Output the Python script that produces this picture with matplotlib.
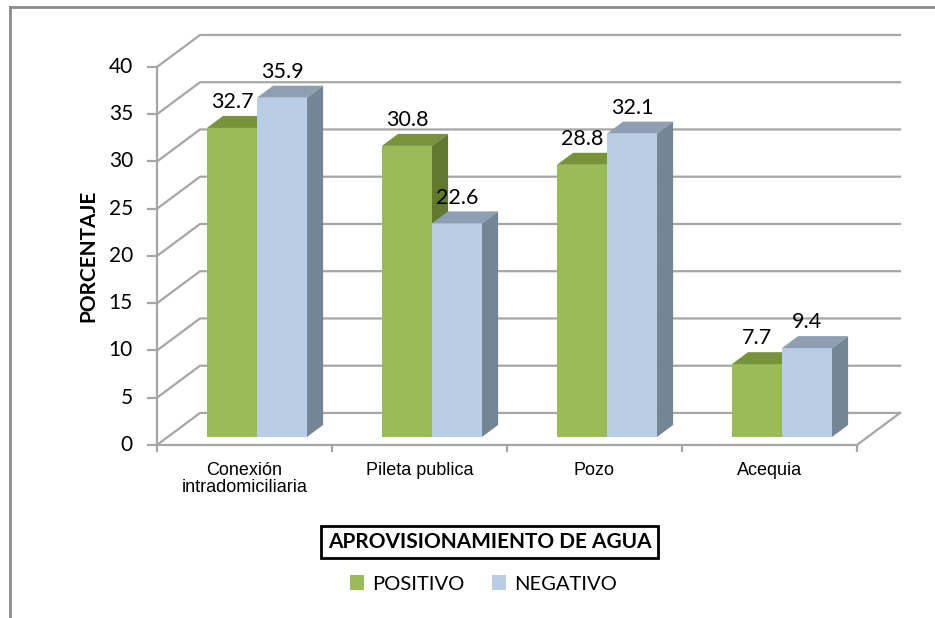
import matplotlib.pyplot as plt
from matplotlib.patches import Polygon, Patch
from matplotlib.lines import Line2D

# datos
categorias = ['Conexión\nintradomiciliaria', 'Pileta publica', 'Pozo', 'Acequia']
positivo = [32.7, 30.8, 28.8, 7.7]
negativo = [35.9, 22.6, 32.1, 9.4]
series = ['POSITIVO', 'NEGATIVO']
yticks = [0, 5, 10, 15, 20, 25, 30, 35, 40]

# colores: frente, tapa, lado
col_pos = ('#9BBB59', '#77933C', '#61782F')
col_neg = ('#B9CDE5', '#8E9FB4', '#748596')
gris = '#A6A6A6'

# profundidad del efecto 3D
PX, PY = 0.246, 3.39      # pared del fondo
BX, BY = 0.092, 1.27      # fondo de cada barra
FX, FY = 0.0615, 0.85     # cara frontal de las barras
ancho = 0.286
inicio = 0.224

fuente = ['Lato', 'DejaVu Sans']

fig = plt.figure(figsize=(9.35, 6.18), dpi=100)
ax = fig.add_axes([0, 0, 1, 1])
ax.set_xlim(-0.897, 4.446)
ax.set_ylim(-18.31, 47.09)
ax.axis('off')

n = len(categorias)

# rejilla y pared izquierda
for v in yticks:
    ax.plot([0, PX, n + PX], [v, v + PY, v + PY], color=gris, lw=1.6, zorder=1)
    ax.plot([-0.051, 0], [v, v], color=gris, lw=1.6, zorder=1)
    ax.text(-0.137, v, str(v), ha='right', va='center', fontsize=15, family=fuente)
ax.plot([0, 0], [0, yticks[-1]], color=gris, lw=1.6, zorder=1)

# piso
ax.plot([0, n, n + PX], [0, 0, PY], color=gris, lw=1.6, zorder=1)
for i in range(n + 1):
    ax.plot([i, i], [0, -0.65], color=gris, lw=1.6, zorder=1)

# barras
for i in range(n):
    for j, (vals, cols) in enumerate([(positivo, col_pos), (negativo, col_neg)]):
        x0 = i + inicio + j * ancho + FX
        y0 = FY
        x1 = x0 + ancho
        y1 = y0 + vals[i]
        frente = [(x0, y0), (x1, y0), (x1, y1), (x0, y1)]
        tapa = [(x0, y1), (x1, y1), (x1 + BX, y1 + BY), (x0 + BX, y1 + BY)]
        lado = [(x1, y0), (x1 + BX, y0 + BY), (x1 + BX, y1 + BY), (x1, y1)]
        ax.add_patch(Polygon(frente, closed=True, fc=cols[0], ec='none', zorder=2))
        ax.add_patch(Polygon(tapa, closed=True, fc=cols[1], ec='none', zorder=2))
        ax.add_patch(Polygon(lado, closed=True, fc=cols[2], ec='none', zorder=2))

# etiquetas de datos
for i in range(n):
    for j, vals in enumerate([positivo, negativo]):
        xc = i + inicio + j * ancho + FX + ancho / 2
        ax.text(xc, vals[i] + FY + BY + 0.4, f'{vals[i]}', ha='center', va='bottom',
                fontsize=15.5, family=fuente, zorder=5)

# categorias
for i, c in enumerate(categorias):
    ax.text(i + 0.5, -1.75, c, ha='center', va='top', fontsize=13, linespacing=1.05,
            family=['Liberation Sans Narrow', 'Liberation Sans'])

ax.text(-0.394, 20, 'PORCENTAJE', rotation=90, ha='center', va='center',
        fontsize=15, fontweight='bold', family=fuente)

ax.text(1.9, -10.26, 'APROVISIONAMIENTO DE AGUA', ha='center', va='center',
        fontsize=15, fontweight='bold', family=fuente,
        bbox=dict(boxstyle='square,pad=0.3', fc='white', ec='black', lw=2))

handles = [Patch(fc=col_pos[0]), Patch(fc=col_neg[0])]
fig.legend(handles, series, loc='center', bbox_to_anchor=(0.517, 0.055), ncol=2,
           frameon=False, handlelength=0.7, handleheight=0.7, handletextpad=0.4,
           columnspacing=1.4, prop={'family': fuente, 'size': 14.5})

# marco
fig.add_artist(Line2D([10 / 935, 10 / 935], [0, 1 - 7 / 618], color='#8C8C8C', lw=2))
fig.add_artist(Line2D([10 / 935, 1], [1 - 7 / 618, 1 - 7 / 618], color='#8C8C8C', lw=2))

plt.savefig('out.png', dpi=100)
